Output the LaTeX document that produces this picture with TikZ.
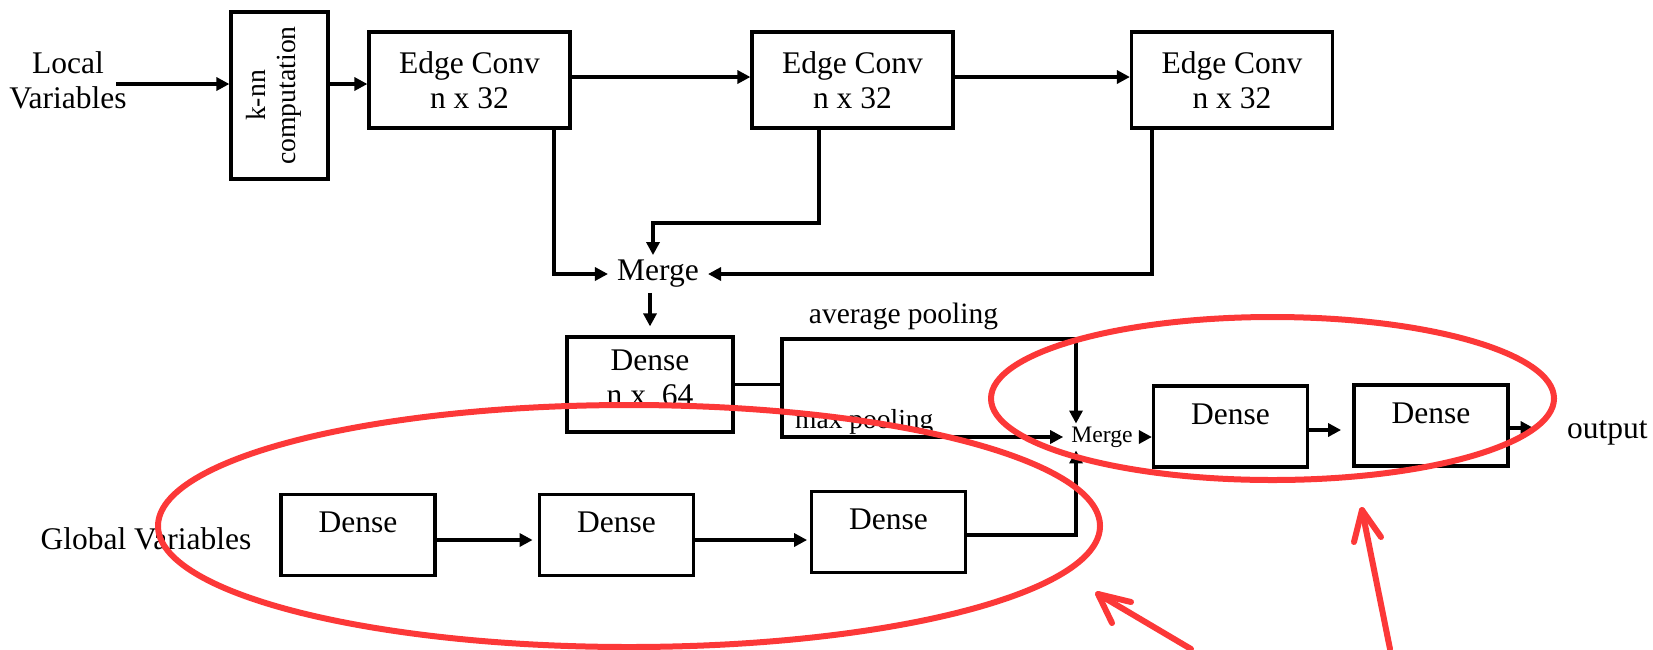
\documentclass[tikz,border=0pt]{standalone}
\usepackage{fontspec}
\setmainfont{Liberation Serif}
\usetikzlibrary{arrows.meta}
\definecolor{annotred}{RGB}{252,56,56}
\newcommand\szBig{\fontsize{31.5pt}{35pt}\selectfont}
\newcommand\szKnn{\fontsize{27.7pt}{30pt}\selectfont}
\newcommand\szPool{\fontsize{29.5pt}{32pt}\selectfont}
\newcommand\szMax{\fontsize{27.5pt}{30pt}\selectfont}
\newcommand\szSmall{\fontsize{23.6pt}{26pt}\selectfont}
\begin{document}
\begin{tikzpicture}[x=1pt,y=-1pt,
  lw/.style={line width=3.2pt},
  boxbase/.style={draw,lw,inner sep=0pt,font=\szBig},
  edgebox/.style={boxbase,align=center,minimum width=201pt,minimum height=96pt},
  densebox/.style={boxbase,minimum width=154pt,minimum height=81pt,text height=21pt,text depth=26pt},
  lbl/.style={inner sep=0pt,font=\szBig},
  conn/.style={lw,-{Triangle[length=13pt,width=13pt]}},
  wire/.style={lw},
  annot/.style={draw=annotred,line width=6pt,line cap=round,line join=round}]

\useasboundingbox (0,0) rectangle (1653,649);

% nodes
\node[lbl,align=center] (lv) at (68,80) {Local\\Variables};
\coordinate (lvout) at (116,84);
\node[boxbase,font=\szKnn,align=center,rotate=90,minimum width=167pt,minimum height=97pt] (knn) at (279.5,95.5) {k-nn\\computation\rule[-18pt]{0pt}{18pt}};
\node[edgebox] (ec1) at (469.5,80) {Edge Conv\\n x 32};
\node[edgebox] (ec2) at (852.5,80) {Edge Conv\\n x 32};
\node[edgebox] (ec3) at (1232,80) {Edge Conv\\n x 32};
\node[lbl,inner xsep=9pt,inner ysep=5pt] (m1) at (658,274) {Merge};
\node[boxbase,align=center,minimum width=166pt,minimum height=95pt] (d64) at (650,384.5) {Dense\\n x\ \ 64\rule[-14pt]{0pt}{14pt}};
\node[lbl,font=\szPool] (avg) at (903.5,316) {average pooling};
\node[lbl,font=\szMax,anchor=base west] (maxp) at (795,428) {max pooling};
\node[lbl,font=\szSmall,inner xsep=8pt,inner ysep=3pt] (m2) at (1102,437) {Merge};
\node[densebox] (d4) at (1230.5,426.5) {Dense};
\node[densebox] (d5) at (1431,425.5) {Dense};
\node[lbl,anchor=base west] (out) at (1567,438) {output};
\node[lbl] (gv) at (146,539) {Global Variables};
\node[densebox] (g1) at (358,535) {Dense};
\node[densebox] (g2) at (616.5,535) {Dense};
\node[densebox] (g3) at (888.5,532) {Dense};

% connectors
\draw[conn] (lvout) -- (lvout -| knn.north);
\draw[conn] (knn.south |- lvout) -- (lvout -| ec1.west);
\draw[conn] ([yshift=3pt]ec1.east) -- ([yshift=3pt]ec2.west);
\draw[conn] ([yshift=3pt]ec2.east) -- ([yshift=3pt]ec3.west);
\draw[conn] ([xshift=84.5pt]ec1.south) |- (m1.west);
\coordinate (ec2turn) at (653,223);
\draw[conn] ([xshift=-33.5pt]ec2.south) |- (ec2turn) -- (ec2turn |- m1.north);
\draw[conn] ([xshift=-80pt]ec3.south) |- (m1.east);
\draw[conn] (m1.south -| d64.north) -- ([yshift=9pt]d64.north);

\coordinate (split) at (782,384.5);
\coordinate (avgc) at (1076,339);
\draw[wire] (d64.east) -- (split);
\draw[conn] (split) |- (avgc) -- (avgc |- m2.north);
\draw[conn] (split) |- (m2.west);
\draw[conn] ([yshift=-3pt]g3.east) -| (avgc |- m2.south);
\draw[conn] (m2.east) -- (m2.east -| d4.west);
\draw[conn] ([yshift=-3.5pt]d4.east) -- +(32pt,0);
\draw[conn] ([yshift=-2.5pt]d5.east) -- +(24pt,0);
\draw[conn] ([yshift=-5pt]g1.east) -- +(96pt,0);
\draw[conn] ([yshift=-5pt]g2.east) -- +(112pt,0);

% red annotations
\draw[annot] (629,526) ellipse [x radius=471pt, y radius=121pt];
\draw[annot] (1272.5,398.5) ellipse [x radius=281.5pt, y radius=81.5pt];
\coordinate (t1) at (1098,594);
\draw[annot] (1131,602) -- (t1) -- (1112,623);
\draw[annot] (t1) -- (1191,649);
\coordinate (t2) at (1362,510);
\draw[annot] (1354,542) -- (t2) -- (1381,537);
\draw[annot] (t2) -- (1390,649);
\end{tikzpicture}
\end{document}
